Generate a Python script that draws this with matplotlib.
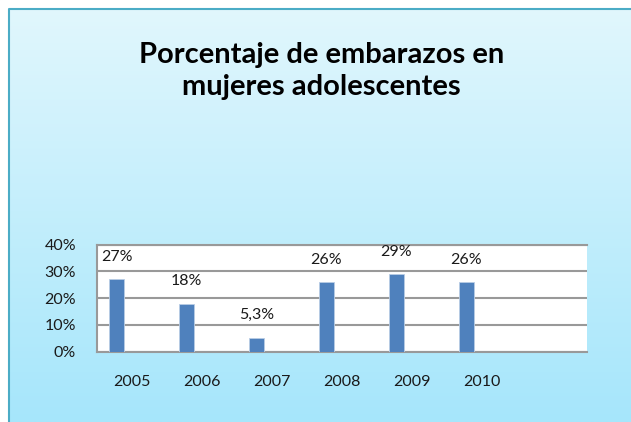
import matplotlib.pyplot as plt
import numpy as np
from matplotlib.patches import Rectangle
from matplotlib.colors import LinearSegmentedColormap

plt.rcParams['font.family'] = ['Lato', 'DejaVu Sans']

years = ['2005', '2006', '2007', '2008', '2009', '2010']
values = [27, 18, 5.3, 26, 29, 26]
labels = ['27%', '18%', '5,3%', '26%', '29%', '26%']
y_ticks = [0, 10, 20, 30, 40]

fig = plt.figure(figsize=(6.31, 4.22), dpi=100)

# light cyan gradient behind everything
bg = fig.add_axes([0, 0, 1, 1], zorder=0)
cmap = LinearSegmentedColormap.from_list('bg', ['#a6e6fb', '#e2f7fd'])
grad = np.linspace(0, 1, 256).reshape(-1, 1)
bg.imshow(grad, aspect='auto', cmap=cmap, origin='lower', extent=[0, 1, 0, 1])
bg.add_patch(Rectangle((0, 0), 8 / 631, 1, color='white', zorder=2))
bg.add_patch(Rectangle((0, 1 - 8 / 422), 1, 8 / 422, color='white', zorder=2))
bg.plot([8.5 / 631, 8.5 / 631, 1], [0, 1 - 8.5 / 422, 1 - 8.5 / 422],
        color='#4bacc6', lw=1.5, zorder=3)
bg.set_xlim(0, 1)
bg.set_ylim(0, 1)
bg.axis('off')

ax = fig.add_axes([97 / 631, 1 - 351.7 / 422, 490 / 631, 107 / 422], zorder=1)
ax.set_facecolor('white')

x = np.arange(len(years))
w = 0.222
ax.bar(x - w, values, width=w, color='#4f81bd', edgecolor='#b9cde5',
       linewidth=0.6, zorder=3)
for xi, v, t in zip(x, values, labels):
    ax.text(xi - w, v + 8.3, t, ha='center', va='center', fontsize=11.5,
            color='#1a1a1a', zorder=4)

ax.set_xlim(-0.5, 6.5)
ax.set_ylim(0, 40)
ax.set_yticks(y_ticks)
ax.set_yticklabels([f'{t}%' for t in y_ticks])
ax.set_xticks(x)
ax.set_xticklabels(years)
ax.tick_params(length=0, labelsize=11.5, colors='#1a1a1a')
ax.tick_params(axis='x', pad=17)
ax.tick_params(axis='y', pad=15)
ax.yaxis.grid(True, color='#999999', lw=1.5, zorder=1)
ax.spines['right'].set_visible(False)
for s in ['top', 'bottom', 'left']:
    ax.spines[s].set_color('#999999')
    ax.spines[s].set_linewidth(1.5)

fig.text(0.51, 1 - 71 / 422, 'Porcentaje de embarazos en\nmujeres adolescentes',
         ha='center', va='center', fontsize=21, fontweight='bold',
         linespacing=1.25, color='black')

fig.savefig('out.png', dpi=100)
